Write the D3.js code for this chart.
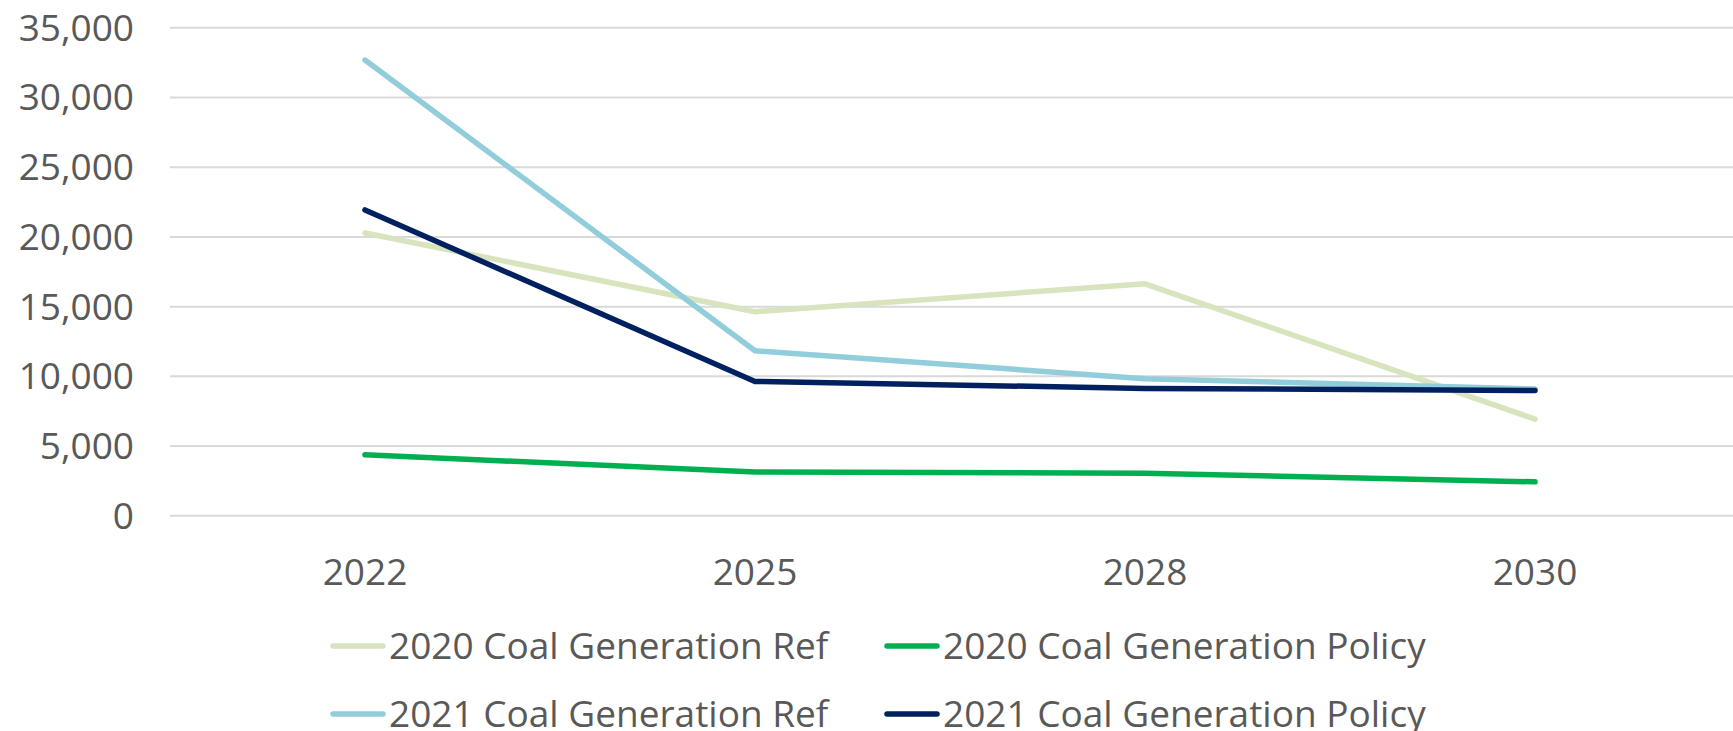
<!DOCTYPE html>
<html>
<head>
<meta charset="utf-8">
<script src="https://cdn.jsdelivr.net/npm/d3@7"></script>
<style>
  html, body { margin: 0; padding: 0; background: #fff; }
  svg { display: block; font-family: "Open Sans", sans-serif; }
</style>
</head>
<body>
<svg id="chart" width="1733" height="731"></svg>
<script>
const categories = ["2022", "2025", "2028", "2030"];
const seriesNames = [
  "2020 Coal Generation Ref",
  "2020 Coal Generation Policy",
  "2021 Coal Generation Ref",
  "2021 Coal Generation Policy"
];
const coal2020Ref    = [20250, 14600, 16600, 6900];
const coal2020Policy = [4350, 3100, 3020, 2400];
const coal2021Ref    = [32650, 11800, 9800, 9050];
const coal2021Policy = [21900, 9600, 9100, 8950];
const yTicks = [0, 5000, 10000, 15000, 20000, 25000, 30000, 35000];
const colors = ["#d7e4bd", "#00b050", "#92cddc", "#002060"];

(function () {
const seriesValues = [coal2020Ref, coal2020Policy, coal2021Ref, coal2021Policy];
const series = seriesNames.map((name, i) => ({
  name, color: colors[i],
  values: categories.map((c, j) => ({ cat: c, v: seriesValues[i][j] }))
}));

const svg = d3.select("#chart");
const mLeft = 170, mRight = 1730, mTop = 27.3, mBottom = 515.3;

const x = d3.scaleBand().domain(categories).range([mLeft, mRight]);
const y = d3.scaleLinear().domain([0, 35000]).range([mBottom, mTop]);

// gridlines + y labels
const yAxis = d3.axisLeft(y).tickValues(yTicks).tickSize(-(1733 - mLeft)).tickPadding(36)
  .tickFormat(d3.format(","));
const gy = svg.append("g").attr("transform", `translate(${mLeft},0)`).call(yAxis);
gy.select(".domain").remove();
gy.selectAll(".tick line").attr("stroke", "#d9d9d9").attr("stroke-width", 2);
gy.selectAll(".tick text").attr("fill", "#595959").attr("font-size", 37)
  .attr("font-family", "Open Sans, sans-serif").attr("dy", "0.35em");

// x axis
const xAxis = d3.axisBottom(x).tickSize(0).tickPadding(0);
const gx = svg.append("g").attr("transform", `translate(0,${mBottom})`).call(xAxis);
gx.select(".domain").remove();
gx.selectAll(".tick text").attr("fill", "#595959").attr("font-size", 37)
  .attr("font-family", "Open Sans, sans-serif").attr("dy", null).attr("y", 70);

// lines
const line = d3.line()
  .x(d => x(d.cat) + x.bandwidth() / 2)
  .y(d => y(d.v));

svg.append("g").selectAll("path").data(series).join("path")
  .attr("d", d => line(d.values))
  .attr("fill", "none")
  .attr("stroke", d => d.color)
  .attr("stroke-width", 5.5)
  .attr("stroke-linecap", "round")
  .attr("stroke-linejoin", "round");

// legend
const legendPos = [
  { x: 330, y: 646 }, { x: 884, y: 646 },
  { x: 330, y: 714 }, { x: 884, y: 714 }
];
const lg = svg.append("g").selectAll("g").data(series).join("g")
  .attr("transform", (d, i) => `translate(${legendPos[i].x},${legendPos[i].y})`);
lg.append("line").attr("x1", 3).attr("x2", 53).attr("y1", 0).attr("y2", 0)
  .attr("stroke", d => d.color).attr("stroke-width", 5.5).attr("stroke-linecap", "round");
lg.append("text").attr("x", 59).attr("y", 0).attr("dy", "0.35em")
  .attr("fill", "#595959").attr("font-size", 37)
  .text(d => d.name);
})();
</script>
</body>
</html>
